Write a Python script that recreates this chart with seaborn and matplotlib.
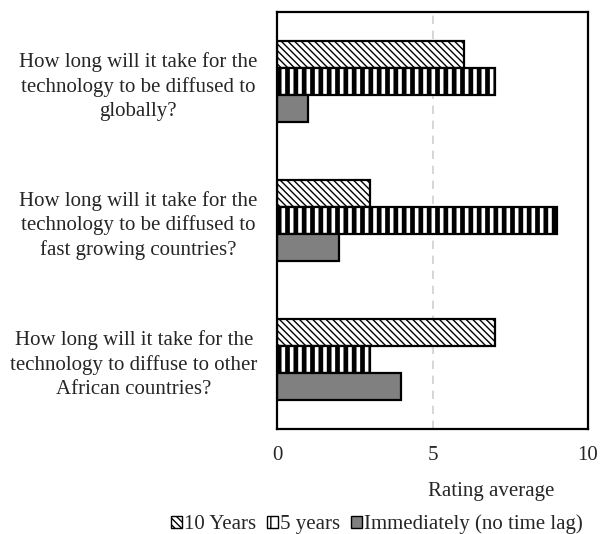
import matplotlib
matplotlib.use("Agg")
import matplotlib.pyplot as plt
import seaborn as sns
import pandas as pd
from matplotlib.patches import Patch

questions = [
    "How long will it take for the\ntechnology to be diffused to\nglobally?",
    "How long will it take for the\ntechnology to be diffused to\nfast growing countries?",
    "How long will it take for the\ntechnology to diffuse to other\nAfrican countries?",
]
series_names = ["10 Years", "5 years", "Immediately (no time lag)"]
ten_years = [6, 3, 7]
five_years = [7, 9, 3]
immediately = [1, 2, 4]
x_ticks = [0, 5, 10]

rows = []
for name, vals in zip(series_names, [ten_years, five_years, immediately]):
    for q, v in zip(questions, vals):
        rows.append({"question": q, "series": name, "value": v})
df = pd.DataFrame(rows)

sns.set_theme(style="white")
plt.rcParams["font.family"] = ["Liberation Serif", "DejaVu Serif"]
FS = 15

fig = plt.figure(figsize=(6.0, 5.34), dpi=100)
ax = fig.add_axes([0.4617, 0.1966, 0.5183, 0.7809])

# white base colour; the series are told apart by hatch and fill
styles = {
    "10 Years": dict(face="white", hatch="\\\\\\\\\\", hlw=1.0),
    "5 years": dict(face="white", hatch="||", hlw=3.4),
    "Immediately (no time lag)": dict(face="#808080", hatch=None, hlw=1.0),
}

sns.barplot(data=df, y="question", x="value", hue="series", order=questions,
            hue_order=series_names, orient="h", width=0.58, gap=0,
            palette=["white"] * 3, edgecolor="black", linewidth=1.6,
            legend=False, ax=ax)

for cont, name in zip(ax.containers, series_names):
    st = styles[name]
    for bar in cont:
        bar.set_facecolor(st["face"])
        bar.set_edgecolor("black")
        bar.set_linewidth(1.6)
        if st["hatch"]:
            bar.set_hatch(st["hatch"])
            try:
                bar.set_hatch_linewidth(st["hlw"])
            except AttributeError:
                pass

ax.set_xlim(0, 10)
ax.set_xticks(x_ticks)
ax.set_xticklabels([str(t) for t in x_ticks], fontsize=FS)
ax.axvline(5, color="#d0d0d0", linestyle=(0, (5, 4)), linewidth=1.2, zorder=0)
ax.tick_params(axis="x", length=0, pad=12)
ax.tick_params(axis="y", length=0, pad=14)
for lbl in ax.get_yticklabels():
    lbl.set_fontsize(FS)
    lbl.set_multialignment("center")
    lbl.set_linespacing(1.33)

ax.set_ylabel("")
ax.set_xlabel("Rating average", fontsize=FS)
ax.xaxis.set_label_coords(0.69, -0.127)

for sp in ax.spines.values():
    sp.set_visible(True)
    sp.set_color("black")
    sp.set_linewidth(1.6)

handles = []
for name in series_names:
    st = styles[name]
    h = Patch(facecolor=st["face"], edgecolor="black", hatch=st["hatch"], linewidth=1.0)
    handles.append(h)
leg = fig.legend(handles, series_names, loc="center right", bbox_to_anchor=(0.972, 0.018),
                 ncol=3, frameon=False, fontsize=FS, handlelength=0.55,
                 handleheight=0.55, handletextpad=0.1, columnspacing=0.5,
                 borderaxespad=0, borderpad=0)

fig.savefig("out.png", dpi=100)
